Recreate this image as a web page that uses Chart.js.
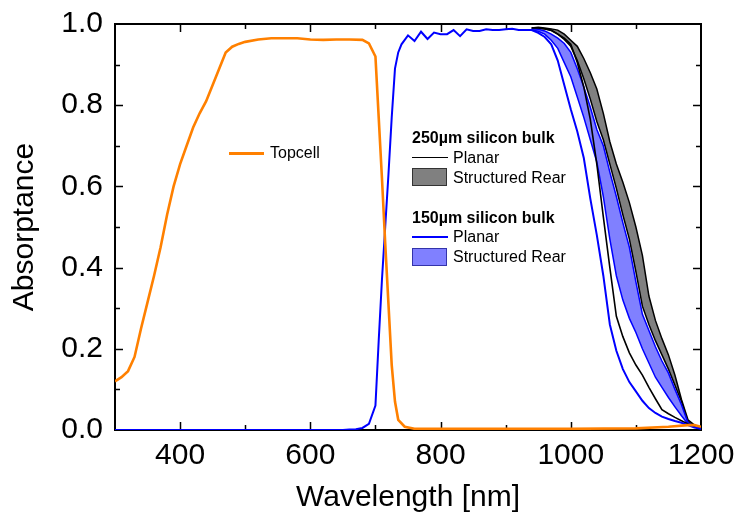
<!DOCTYPE html>
<html>
<head>
<meta charset="utf-8">
<script src="https://cdn.jsdelivr.net/npm/chart.js@4"></script>
<style>
html,body{margin:0;padding:0;background:#fff;}
#wrap{position:relative;width:734px;height:517px;}
canvas{position:absolute;left:0;top:0;}
.lg{position:absolute;font-family:"Liberation Sans",Arial,sans-serif;font-size:16px;color:#000;white-space:nowrap;height:20px;line-height:20px;}
.hd{font-weight:bold;}
.ln{position:absolute;}
.bx{position:absolute;box-sizing:border-box;}
</style>
</head>
<body>
<div id="wrap">
<canvas id="c" width="734" height="517"></canvas>
</div>
<script>
// ---- data ----
const wlTopcell = [300,310,320,330,340,350,360,370,380,390,400,410,420,430,440,450,460,470,480,490,500,520,540,560,580,600,620,640,660,680,690,700,705,710,715,720,725,730,735,745,760,800,900,1000,1100,1150,1180,1190,1200];
const absTopcell = [0.12,0.13,0.145,0.18,0.25,0.315,0.38,0.45,0.53,0.6,0.655,0.7,0.745,0.78,0.81,0.85,0.89,0.93,0.944,0.951,0.956,0.962,0.965,0.965,0.965,0.962,0.961,0.962,0.962,0.961,0.952,0.92,0.77,0.62,0.46,0.31,0.16,0.07,0.025,0.008,0.003,0.003,0.003,0.003,0.004,0.008,0.012,0.012,0.008];

const wl150Planar = [300,650,660,670,680,690,700,705,710,715,720,725,730,735,740,750,760,770,780,790,800,810,820,830,840,850,860,870,880,890,900,910,920,930,940,950,960,970,980,990,1000,1010,1020,1030,1040,1050,1060,1070,1080,1090,1100,1110,1120,1130,1140,1150,1160,1170,1180,1190,1200];
const abs150Planar = [0,0,0.001,0.002,0.005,0.015,0.06,0.22,0.37,0.5,0.63,0.77,0.89,0.93,0.95,0.972,0.958,0.981,0.963,0.979,0.975,0.975,0.985,0.97,0.987,0.983,0.983,0.987,0.985,0.985,0.987,0.988,0.985,0.985,0.985,0.978,0.968,0.95,0.91,0.85,0.79,0.735,0.67,0.57,0.48,0.38,0.26,0.195,0.15,0.118,0.095,0.072,0.054,0.042,0.033,0.027,0.022,0.018,0.012,0.006,0.003];

const wlRear = [940,950,960,970,980,990,1000,1010,1020,1030,1040,1050,1060,1070,1080,1090,1100,1110,1120,1130,1140,1150,1160,1170,1180,1190,1200];
const abs250Planar = [0.99,0.99,0.988,0.985,0.975,0.965,0.95,0.905,0.845,0.765,0.655,0.525,0.4,0.28,0.23,0.19,0.16,0.135,0.105,0.077,0.05,0.04,0.031,0.023,0.015,0.008,0.003];
const abs150RearLow = [0.985,0.982,0.975,0.96,0.94,0.905,0.87,0.82,0.77,0.715,0.66,0.575,0.47,0.38,0.32,0.275,0.24,0.2,0.165,0.13,0.105,0.08,0.057,0.035,0.015,0.007,0.003];
const abs150RearHigh = [0.988,0.987,0.983,0.975,0.965,0.952,0.93,0.89,0.845,0.795,0.74,0.7,0.635,0.575,0.51,0.45,0.365,0.285,0.245,0.205,0.17,0.14,0.1,0.062,0.018,0.008,0.003];
const abs250RearLow = [0.99,0.99,0.988,0.984,0.975,0.962,0.945,0.91,0.865,0.815,0.76,0.715,0.655,0.595,0.53,0.47,0.39,0.305,0.26,0.22,0.185,0.15,0.11,0.07,0.02,0.009,0.004];
const abs250RearHigh = [0.99,0.992,0.99,0.988,0.985,0.975,0.96,0.945,0.915,0.88,0.84,0.78,0.71,0.655,0.61,0.56,0.5,0.43,0.33,0.27,0.225,0.185,0.135,0.075,0.025,0.012,0.005];

const xTickValues = [400,600,800,1000,1200];
const yTickValues = [0,0.2,0.4,0.6,0.8,1.0];
const xTitle = 'Wavelength [nm]';
const yTitle = 'Absorptance';
const legendTopcell = 'Topcell';
const legendGroups = ['250µm silicon bulk','150µm silicon bulk'];
const legendItems = ['Planar','Structured Rear'];

const FONT = '"Liberation Sans", Arial, sans-serif';
const pts = (xs, ys) => xs.map((x, i) => ({x: x, y: ys[i]}));

// ---- legend (HTML text) ----
const wrap = document.getElementById('wrap');
function addText(txt, left, cy, bold) {
  const d = document.createElement('div');
  d.className = 'lg' + (bold ? ' hd' : '');
  d.textContent = txt;
  d.style.left = left + 'px';
  d.style.top = (cy - 10) + 'px';
  wrap.appendChild(d);
}
function addLine(x1, x2, cy, w, col) {
  const d = document.createElement('div');
  d.className = 'ln';
  d.style.left = x1 + 'px'; d.style.width = (x2 - x1) + 'px';
  d.style.top = (cy - w / 2) + 'px'; d.style.height = w + 'px';
  d.style.background = col;
  wrap.appendChild(d);
}
function addBox(x1, y1, x2, y2, fill, border) {
  const d = document.createElement('div');
  d.className = 'bx';
  d.style.left = x1 + 'px'; d.style.top = y1 + 'px';
  d.style.width = (x2 - x1) + 'px'; d.style.height = (y2 - y1) + 'px';
  d.style.background = fill; d.style.border = '1px solid ' + border;
  wrap.appendChild(d);
}
addLine(229, 264, 153, 3, '#FF8000'); addText(legendTopcell, 270, 153, false);
addText(legendGroups[0], 412, 138, true);
addLine(412, 448, 157.5, 1.5, '#000'); addText(legendItems[0], 453, 157.5, false);
addBox(412, 168, 447, 186, '#808080', '#333'); addText(legendItems[1], 453, 177.5, false);
addText(legendGroups[1], 412, 218, true);
addLine(412, 448, 237, 1.5, '#0000FF'); addText(legendItems[0], 453, 237, false);
addBox(412, 248, 447, 266, '#8080FF', '#3333AA'); addText(legendItems[1], 453, 257, false);

// ---- frame with inward ticks ----
const framePlugin = {
  id: 'frame',
  beforeDraw(chart) {
    const ctx = chart.ctx;
    ctx.save(); ctx.fillStyle = '#fff'; ctx.fillRect(0, 0, chart.width, chart.height); ctx.restore();
  },
  beforeDatasetsDraw(chart) {
    const {ctx, chartArea: a, scales: {x, y}} = chart;
    ctx.save();
    ctx.strokeStyle = '#000';
    ctx.lineWidth = 1.5;
    ctx.beginPath();
    for (let v = 400; v < 1200; v += 100) {
      const px = Math.round(x.getPixelForValue(v)) + 0.5;
      const len = (v % 200 === 0) ? 8 : 5;
      ctx.moveTo(px, a.bottom); ctx.lineTo(px, a.bottom - len);
      ctx.moveTo(px, a.top); ctx.lineTo(px, a.top + len);
    }
    for (let k = 1; k < 10; k++) {
      const py = Math.round(y.getPixelForValue(k / 10)) + 0.5;
      const len = (k % 2 === 0) ? 8 : 5;
      ctx.moveTo(a.left, py); ctx.lineTo(a.left + len, py);
      ctx.moveTo(a.right, py); ctx.lineTo(a.right - len, py);
    }
    ctx.stroke();
    ctx.lineWidth = 2;
    ctx.strokeRect(a.left, a.top, a.right - a.left, a.bottom - a.top);
    ctx.restore();
  }
};

new Chart(document.getElementById('c'), {
  type: 'line',
  data: {
    datasets: [
      {label: legendTopcell, data: pts(wlTopcell, absTopcell), borderColor: '#FF8000', borderWidth: 2.6, pointRadius: 0, fill: false},
      {label: '150 planar', data: pts(wl150Planar, abs150Planar), borderColor: '#0000FF', borderWidth: 2, pointRadius: 0, fill: false},
      {label: '250 planar', data: pts(wlRear, abs250Planar), borderColor: '#000', borderWidth: 1.6, pointRadius: 0, fill: false},
      {label: '150 rear high', data: pts(wlRear, abs150RearHigh), borderColor: '#0000FF', borderWidth: 1.5, pointRadius: 0, fill: 4, backgroundColor: '#8080FF'},
      {label: '150 rear low', data: pts(wlRear, abs150RearLow), borderColor: '#0000FF', borderWidth: 1.5, pointRadius: 0, fill: false},
      {label: '250 rear high', data: pts(wlRear, abs250RearHigh), borderColor: '#000', borderWidth: 1.5, pointRadius: 0, fill: 6, backgroundColor: '#808080'},
      {label: '250 rear low', data: pts(wlRear, abs250RearLow), borderColor: '#000', borderWidth: 1.5, pointRadius: 0, fill: false}
    ]
  },
  options: {
    responsive: false,
    animation: false,
    devicePixelRatio: 1,
    layout: {padding: {left: 0, right: 33, top: 24, bottom: 0}},
    elements: {line: {tension: 0}},
    plugins: {
      legend: {display: false},
      tooltip: {enabled: false},
      filler: {drawTime: 'beforeDatasetsDraw'}
    },
    scales: {
      x: {
        type: 'linear', min: 300, max: 1200,
        grid: {display: false, drawTicks: false},
        border: {display: false},
        ticks: {font: {size: 30, family: FONT}, color: '#000', padding: 8, maxRotation: 0, autoSkip: false, callback: v => String(v)},
        afterBuildTicks: s => { s.ticks = xTickValues.map(v => ({value: v})); },
        afterFit: s => { s.height = 87; s.paddingLeft = 0; s.paddingRight = 0; },
        title: {display: true, text: xTitle, color: '#000', font: {size: 30, family: FONT, lineHeight: 1}, padding: {top: 0, bottom: 4}}
      },
      y: {
        type: 'linear', min: 0, max: 1,
        grid: {display: false, drawTicks: false},
        border: {display: false},
        ticks: {font: {size: 30, family: FONT}, color: '#000', padding: 12, callback: v => Number(v).toFixed(1)},
        afterBuildTicks: s => { s.ticks = yTickValues.map(v => ({value: v})); },
        afterFit: s => { s.width = 115; s.paddingTop = 0; s.paddingBottom = 0; },
        title: {display: true, text: yTitle, color: '#000', font: {size: 30, family: FONT, lineHeight: 1}, padding: {top: 10, bottom: 0}}
      }
    }
  },
  plugins: [framePlugin]
});
</script>
</body>
</html>
